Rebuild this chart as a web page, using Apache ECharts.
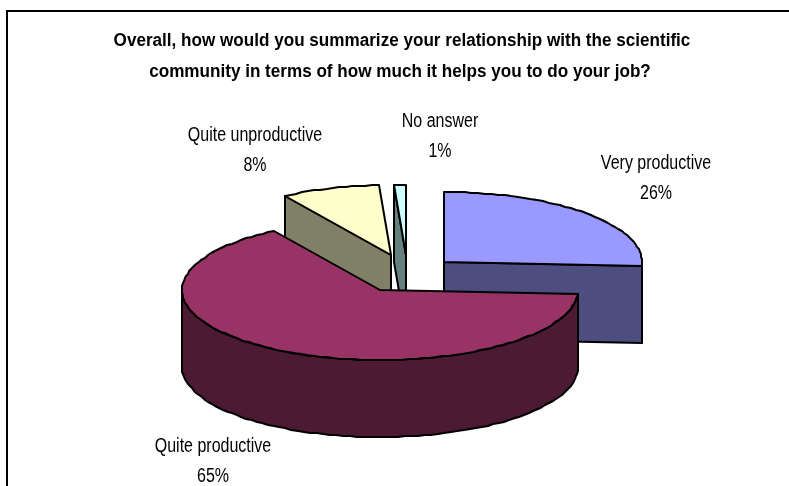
<!DOCTYPE html>
<html>
<head>
<meta charset="utf-8">
<style>html,body{margin:0;padding:0;background:#fff}#chart{width:789px;height:486px}</style>
<script src="https://cdn.jsdelivr.net/npm/echarts@6/dist/echarts.min.js"></script>
</head>
<body>
<div id="chart"></div>
<script>
// Survey responses, in percent, clockwise from twelve o'clock
const categories = ['Very productive', 'Quite productive', 'Quite unproductive', 'No answer'];
const shares = [26, 65, 8, 1];
const titleLines = [
  'Overall, how would you summarize your relationship with the scientific',
  'community in terms of how much it helps you to do your job?'
];
const topColors = ['#9999FF', '#993366', '#FFFFCC', '#CCFFFF'];
const sideColors = ['#4D4D80', '#4D1A33', '#808066', '#668080'];

// Pie projection: centre, ellipse radii and extrusion height in pixels
const pie = { cx: 406, cy: 274, rx: 198, ry: 70, depth: 77 };
// How far each wedge is pulled out of the pie, and which is painted last
const pullOut = [[38, -12], [-26, 16], [-15, -19], [0, -19]];
const paintOrder = [1, 3, 1, 0];
// Label anchors per wedge
const labelAt = [[656, 178], [213, 461], [255, 150], [440, 136]];

const total = shares.reduce((a, b) => a + b, 0);
const rad = deg => deg * Math.PI / 180;

// Rim vertices snap to whole pixels, which gives the stepped outline of the curve
function rimPoints(apex, from, to) {
  const pts = [];
  const n = Math.max(1, Math.ceil((to - from) / 2));
  for (let i = 0; i <= n; i++) {
    const a = rad(from + (to - from) * i / n);
    pts.push([
      Math.round(apex[0] + pie.rx * Math.sin(a)),
      Math.round(apex[1] - pie.ry * Math.cos(a))
    ]);
  }
  return pts;
}

function poly(points, fill, z2) {
  return {
    type: 'polygon',
    z2: z2,
    shape: { points: points },
    style: { fill: fill, stroke: '#000', lineWidth: 2, lineJoin: 'round' }
  };
}

function wedge(params, api) {
  const i = api.value(0);
  const before = shares.slice(0, i).reduce((a, b) => a + b, 0);
  const from = before / total * 360;
  const to = (before + api.value(1)) / total * 360;
  const apex = [pie.cx + pullOut[i][0], pie.cy + pullOut[i][1]];
  const down = p => [p[0], p[1] + pie.depth];
  const rim = rimPoints(apex, from, to);
  const z = paintOrder[i] * 10;
  const children = [];
  const cutFace = edge => poly([apex, edge, down(edge), down(apex)], sideColors[i], z + 1);

  // Radial cut faces, drawn only when they turn towards the viewer
  if (Math.sin(rad(from)) < -1e-6) children.push(cutFace(rim[0]));
  if (Math.sin(rad(to)) > 1e-6) children.push(cutFace(rim[rim.length - 1]));
  // Outer wall, only the part that faces the viewer
  const f = Math.max(from, 90), t = Math.min(to, 270);
  if (t > f) {
    const wall = rimPoints(apex, f, t);
    children.push(poly(wall.concat(wall.map(down).reverse()), sideColors[i], z + 2));
  }
  // Top face
  children.push(poly([apex].concat(rim), topColors[i], z + 3));
  return { type: 'group', children: children };
}

function captionText(text, x, y, size, weight, scaleX) {
  return {
    type: 'text',
    x: x, y: y, scaleX: scaleX,
    z: 10,
    style: {
      text: text, x: 0, y: 0, align: 'center', verticalAlign: 'middle',
      font: weight + ' ' + size + 'px "Liberation Sans", Arial, sans-serif', fill: '#000'
    }
  };
}

const graphics = [
  { type: 'line', shape: { x1: 7, y1: 11, x2: 789, y2: 11 }, style: { stroke: '#000', lineWidth: 2 } },
  { type: 'line', shape: { x1: 7, y1: 10, x2: 7, y2: 486 }, style: { stroke: '#000', lineWidth: 2 } },
  captionText(titleLines[0], 402, 41, 18, 'bold', 0.95),
  captionText(titleLines[1], 400, 72, 18, 'bold', 0.95)
];
categories.forEach((name, i) => {
  graphics.push(captionText(name, labelAt[i][0], labelAt[i][1] - 15, 20, 'normal', 0.8));
  graphics.push(captionText(shares[i] + '%', labelAt[i][0], labelAt[i][1] + 15, 20, 'normal', 0.8));
});

const chart = echarts.init(document.getElementById('chart'), null, { renderer: 'canvas' });
chart.setOption({
  animation: false,
  backgroundColor: '#fff',
  graphic: graphics,
  series: [{
    type: 'custom',
    coordinateSystem: 'none',
    silent: true,
    renderItem: wedge,
    data: shares.map((v, i) => [i, v, categories[i]])
  }]
});
</script>
</body>
</html>
